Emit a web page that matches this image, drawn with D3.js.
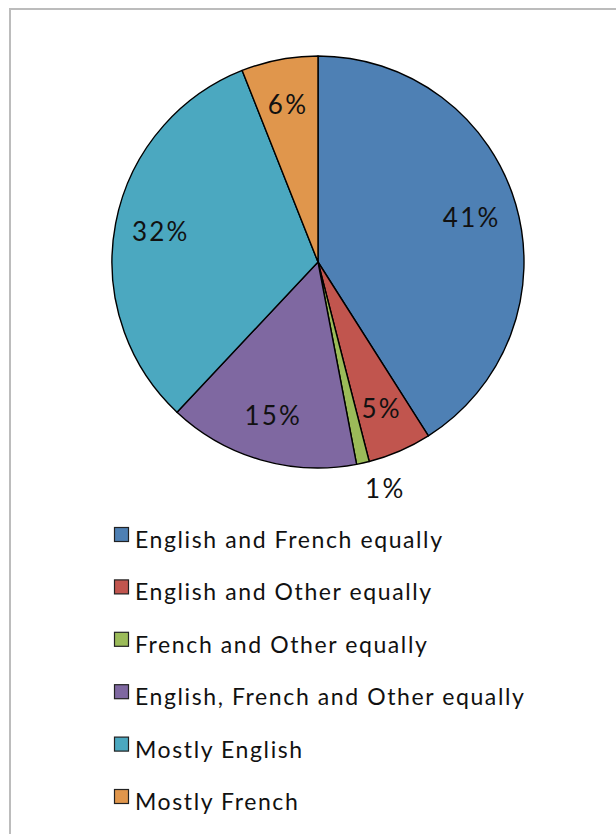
<!DOCTYPE html>
<html>
<head>
<meta charset="utf-8">
<script src="https://cdn.jsdelivr.net/npm/d3@7/dist/d3.min.js"></script>
<style>
  html, body { margin: 0; padding: 0; background: #ffffff; }
  svg { display: block; }
  text { font-family: "Lato", "DejaVu Sans", sans-serif; fill: #111; }
</style>
</head>
<body>
<svg id="chart" width="616" height="834"></svg>
<script>
// Language spoken at home: share of respondents (percent)
const categories = [
  "English and French equally",
  "English and Other equally",
  "French and Other equally",
  "English, French and Other equally",
  "Mostly English",
  "Mostly French"
];
const values = [41, 5, 1, 15, 32, 6];
const colors = ["#4E80B4", "#C1554E", "#9BBB59", "#7F68A1", "#4BA8C0", "#E0964C"];
// slices too thin for an inside label get their label outside the pie
const outsideLabel = [false, false, true, false, false, false];

const svg = d3.select("#chart");

// chart frame (continues past the right and bottom edges of the view)
svg.append("rect")
  .attr("x", 10).attr("y", 9)
  .attr("width", 700).attr("height", 900)
  .attr("fill", "#ffffff")
  .attr("stroke", "#bcbcbc")
  .attr("stroke-width", 2);

const cx = 318, cy = 262, R = 206;
const data = categories.map((c, i) => ({ name: c, value: values[i], color: colors[i], outside: outsideLabel[i] }));

const pie = d3.pie().value(d => d.value).sort(null);
const arcs = pie(data);
const arc = d3.arc().innerRadius(0).outerRadius(R);
const labelArc = d3.arc().innerRadius(160).outerRadius(160);
const outerArc = d3.arc().innerRadius(R + 10).outerRadius(R + 10);

const g = svg.append("g").attr("transform", `translate(${cx},${cy})`);

g.selectAll("path.slice")
  .data(arcs)
  .join("path")
  .attr("class", "slice")
  .attr("d", arc)
  .attr("fill", d => d.data.color)
  .attr("stroke", "#000")
  .attr("stroke-width", 1.4)
  .attr("stroke-linejoin", "round");

// percentage labels
g.selectAll("text.pct")
  .data(arcs)
  .join("text")
  .attr("class", "pct")
  .attr("transform", d => {
    const p = d.data.outside ? outerArc.centroid(d) : labelArc.centroid(d);
    return `translate(${p[0]},${p[1]})`;
  })
  .attr("text-anchor", d => d.data.outside ? "start" : "middle")
  .attr("dy", d => d.data.outside ? "0.95em" : "0.36em")
  .attr("font-size", 26)
  .attr("letter-spacing", 2.2)
  .text(d => d.data.value + "%");

// legend
const legend = svg.append("g").attr("transform", "translate(114,527)");
const rowH = 52.4;
const rows = legend.selectAll("g.item")
  .data(data)
  .join("g")
  .attr("class", "item")
  .attr("transform", (d, i) => `translate(0,${i * rowH})`);

rows.append("rect")
  .attr("x", 0.5).attr("y", 0.5)
  .attr("width", 14).attr("height", 14)
  .attr("fill", d => d.color)
  .attr("stroke", "#222")
  .attr("stroke-width", 1.2);

rows.append("text")
  .attr("x", 21)
  .attr("y", 21)
  .attr("font-size", 23)
  .attr("letter-spacing", 1.6)
  .text(d => d.name);
</script>
</body>
</html>
